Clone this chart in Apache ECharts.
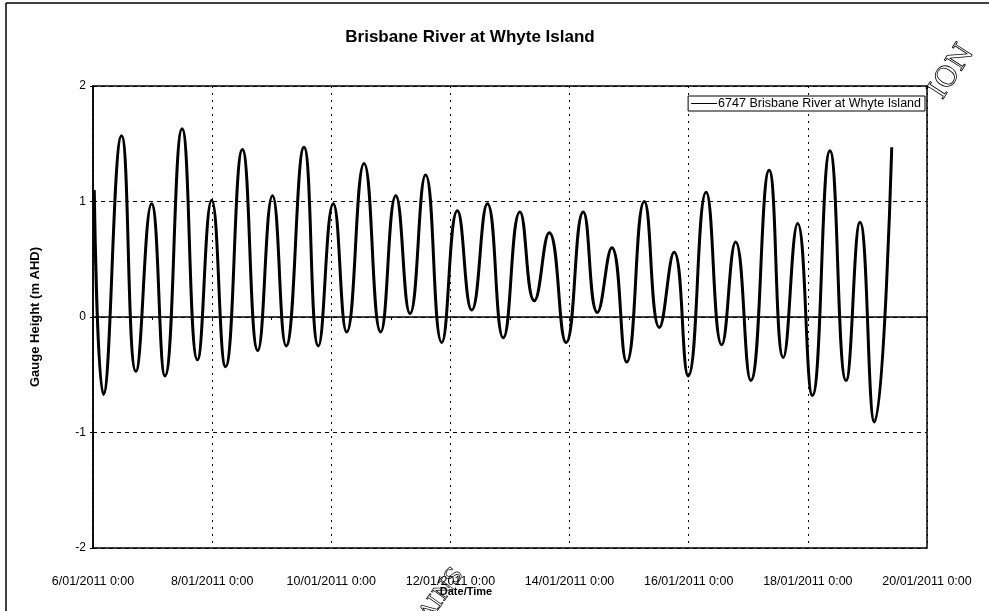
<!DOCTYPE html>
<html>
<head>
<meta charset="utf-8">
<script src="https://cdn.jsdelivr.net/npm/echarts@6/dist/echarts.min.js"></script>
<style>
  html, body { margin: 0; padding: 0; background: #fff; }
  #chart { width: 989px; height: 611px; }
</style>
</head>
<body>
<div id="chart"></div>
<script>
// Gauge readings at high/low water, Brisbane River at Whyte Island (station 6747)
const readingTimes = [
  '2011-01-06 00:30', '2011-01-06 04:12', '2011-01-06 11:30', '2011-01-06 17:18', '2011-01-06 23:36',
  '2011-01-07 05:00', '2011-01-07 11:54', '2011-01-07 18:06', '2011-01-07 23:48',
  '2011-01-08 05:24', '2011-01-08 12:12', '2011-01-08 18:24',
  '2011-01-09 00:18', '2011-01-09 05:48', '2011-01-09 13:00', '2011-01-09 18:48',
  '2011-01-10 00:48', '2011-01-10 06:12', '2011-01-10 13:12', '2011-01-10 19:54',
  '2011-01-11 02:00', '2011-01-11 07:42', '2011-01-11 14:00', '2011-01-11 20:30',
  '2011-01-12 02:48', '2011-01-12 08:36', '2011-01-12 14:54', '2011-01-12 21:18',
  '2011-01-13 04:00', '2011-01-13 09:48', '2011-01-13 15:48', '2011-01-13 22:36',
  '2011-01-14 05:30', '2011-01-14 11:12', '2011-01-14 17:00', '2011-01-14 23:00',
  '2011-01-15 06:06', '2011-01-15 12:12', '2011-01-15 18:06', '2011-01-15 23:48',
  '2011-01-16 07:00', '2011-01-16 13:18', '2011-01-16 18:54',
  '2011-01-17 01:00', '2011-01-17 08:24', '2011-01-17 14:06', '2011-01-17 19:54',
  '2011-01-18 01:48', '2011-01-18 08:54', '2011-01-18 15:24', '2011-01-18 21:00',
  '2011-01-19 02:48', '2011-01-19 09:48'
];
const gaugeHeights = [
  1.10, -0.67, 1.57, -0.47, 0.98,
  -0.51, 1.63, -0.37, 1.01,
  -0.43, 1.45, -0.29,
  1.05, -0.25, 1.47, -0.25,
  0.98, -0.13, 1.33, -0.13,
  1.05, 0.03, 1.23, -0.22,
  0.92, 0.06, 0.98, -0.18,
  0.91, 0.14, 0.73, -0.22,
  0.91, 0.04, 0.60, -0.39,
  1.00, -0.09, 0.56, -0.51,
  1.08, -0.24, 0.65,
  -0.55, 1.27, -0.35, 0.81,
  -0.68, 1.44, -0.55, 0.82,
  -0.91, 1.47
];
// Axis range: 6/01/2011 0:00 to 20/01/2011 0:00, labelled every two days
const axisStart = '2011-01-06 00:00';
const axisDays = 14;
const labelEveryDays = 2;
const seriesName = '6747 Brisbane River at Whyte Island';

function toMs(s) {
  const [d, t] = s.split(' ');
  const [y, m, day] = d.split('-').map(Number);
  const [hh, mm] = t.split(':').map(Number);
  return Date.UTC(y, m - 1, day, hh, mm);
}
const startMs = toMs(axisStart);
const HOUR = 3600000;
// x values in hours since the axis start
const points = readingTimes.map((t, i) => [(toMs(t) - startMs) / HOUR, gaugeHeights[i]]);

function dateLabel(hours) {
  const d = new Date(startMs + hours * HOUR);
  const dd = d.getUTCDate();
  const mm = String(d.getUTCMonth() + 1).padStart(2, '0');
  return dd + '/' + mm + '/' + d.getUTCFullYear() + ' ' + d.getUTCHours() + ':' + String(d.getUTCMinutes()).padStart(2, '0');
}

const FONT = 'Liberation Sans, Arial, sans-serif';
const chart = echarts.init(document.getElementById('chart'), null, { renderer: 'canvas' });
chart.setOption({
  animation: false,
  backgroundColor: '#fff',
  textStyle: { fontFamily: FONT, color: '#000' },
  grid: { left: 93, right: 62, top: 86, bottom: 63, show: true, borderColor: '#000', borderWidth: 1.5 },
  legend: {
    right: 64, top: 96,
    orient: 'horizontal',
    backgroundColor: '#fff',
    borderColor: '#000', borderWidth: 1,
    padding: [1, 4, 1, 3],
    itemWidth: 26, itemHeight: 6, itemGap: 0,
    textStyle: { fontFamily: FONT, fontSize: 12.5, color: '#000', padding: [0, 0, 0, -4] },
    data: [{ name: seriesName, icon: 'path://M0,0 L26,0 L26,1 L0,1 Z' }]
  },
  xAxis: {
    type: 'value',
    min: 0, max: axisDays * 24, interval: labelEveryDays * 24,
    axisLine: { lineStyle: { color: '#000', width: 1.5 } },
    axisTick: { show: true, length: 4, inside: false, lineStyle: { color: '#000' } },
    minorTick: { show: true, splitNumber: 2, length: 3, lineStyle: { color: '#000' } },
    axisLabel: { fontFamily: FONT, fontSize: 12.5, color: '#000', margin: 27, formatter: v => dateLabel(v) },
    splitLine: { show: true, lineStyle: { color: '#000', type: [2, 5], width: 1 } }
  },
  yAxis: {
    type: 'value',
    min: -2, max: 2, interval: 1,
    axisLine: { show: true, lineStyle: { color: '#000', width: 1.5 } },
    axisTick: { show: true, length: 3, lineStyle: { color: '#000' } },
    axisLabel: { fontFamily: FONT, fontSize: 12, color: '#000', margin: 7 },
    splitLine: { show: true, lineStyle: { color: '#000', type: [4, 4], width: 1 } },
    name: 'Gauge Height (m AHD)',
    nameLocation: 'middle',
    nameGap: 51,
    nameTextStyle: { fontFamily: FONT, fontSize: 13, fontWeight: 'bold', color: '#000' }
  },
  series: [{
    name: seriesName,
    type: 'line',
    data: points,
    showSymbol: false,
    symbol: 'none',
    smooth: 0.5,
    lineStyle: { color: '#000', width: 3 },
    itemStyle: { color: '#000' }
  }],
  graphic: [
    { type: 'text', x: 470, y: 37, style: { text: 'Brisbane River at Whyte Island', font: 'bold 17px ' + FONT, fill: '#000', textAlign: 'center', textVerticalAlign: 'middle' } },
    { type: 'text', x: 466, y: 592, style: { text: 'Date/Time', font: 'bold 11px ' + FONT, fill: '#000', textAlign: 'center', textVerticalAlign: 'middle' } },
    // stamp fragments overprinted on the page
    { type: 'text', x: 952, y: 72, rotation: 1.0, z: 100, style: { text: 'ION', font: '28px "DejaVu Serif", serif', fill: 'none', stroke: '#000', lineWidth: 0.8, textAlign: 'center', textVerticalAlign: 'middle' } },
    { type: 'text', x: 438, y: 600, rotation: 0.95, z: 100, style: { text: 'TAINS', font: '22px "DejaVu Serif", serif', fill: 'none', stroke: '#000', lineWidth: 0.7, textAlign: 'center', textVerticalAlign: 'middle' } },
    { type: 'line', shape: { x1: 6, y1: 3, x2: 6, y2: 611 }, style: { stroke: '#000', lineWidth: 1.5 } },
    { type: 'line', shape: { x1: 6, y1: 3, x2: 989, y2: 3 }, style: { stroke: '#000', lineWidth: 1.5 } }
  ]
});
</script>
</body>
</html>
